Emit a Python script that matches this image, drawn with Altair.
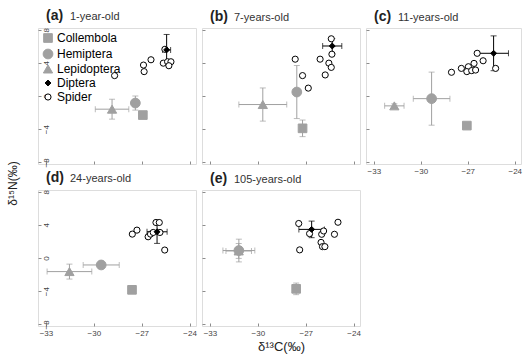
import altair as alt
import pandas as pd

# ---------------- data ----------------
GROUPS = ["Collembola", "Hemiptera", "Lepidoptera", "Diptera", "Spider"]
PANEL_TAGS = ["(a)", "(b)", "(c)", "(d)", "(e)"]
PANEL_AGES = ["1-year-old", "7-years-old", "11-years-old", "24-years-old", "105-years-old"]

# means per panel, order: Collembola, Hemiptera, Lepidoptera, Diptera
MEAN_X = [
    [-26.93, -27.40, -28.86, -25.44],
    [-27.20, -27.56, -29.69, -25.34],
    [-27.06, -29.31, -31.69, -25.35],
    [-27.61, -29.54, -31.53, -26.04],
    [-27.60, -31.19, -31.20, -26.63],
]
MEAN_Y = [
    [-2.30, -0.85, -1.59, 5.56],
    [-3.90, 0.48, -1.03, 6.03],
    [-3.57, -0.32, -1.19, 5.15],
    [-3.84, -0.84, -1.64, 3.16],
    [-3.72, 0.90, 0.85, 3.45],
]
ERR_X = [
    [0.0, 0.0, 1.05, 0.25],
    [0.0, 0.0, 1.50, 0.60],
    [0.0, 1.17, 0.62, 0.95],
    [0.0, 1.13, 1.40, 0.63],
    [0.0, 1.00, 0.80, 0.80],
]
ERR_Y = [
    [0.0, 0.85, 1.20, 1.86],
    [1.00, 3.20, 2.00, 0.90],
    [0.0, 3.20, 0.25, 2.10],
    [0.35, 0.20, 0.90, 1.40],
    [0.70, 1.37, 0.90, 1.00],
]
SPIDER_X = [
    [-28.70, -26.89, -26.85, -26.42, -25.65, -25.38, -25.17, -25.30, -25.55],
    [-27.66, -27.20, -26.84, -26.10, -25.55, -25.40, -25.78, -25.40, -25.36],
    [-26.40, -26.02, -26.60, -26.96, -27.41, -27.06, -26.75, -26.50, -28.04, -25.22],
    [-27.59, -27.30, -26.60, -26.45, -26.28, -26.11, -25.90, -25.56, -25.86],
    [-27.44, -27.38, -26.76, -26.00, -25.88, -26.04, -25.95, -25.80, -25.20, -24.98],
]
SPIDER_Y = [
    [2.46, 3.73, 2.94, 4.37, 3.96, 4.13, 4.13, 3.65, 5.63],
    [4.44, 2.46, 0.95, 4.44, 3.96, 3.45, 2.54, 6.90, 5.04],
    [5.15, 4.25, 3.93, 3.53, 3.33, 2.94, 3.06, 3.13, 2.86, 3.33],
    [2.88, 3.36, 2.56, 2.88, 3.08, 4.28, 4.28, 0.96, 3.08],
    [4.16, 0.98, 2.94, 2.86, 3.26, 1.88, 1.37, 1.37, 2.86, 4.31],
]
X_TICKS = [-33, -30, -27, -24]
Y_TICKS = [-8, -4, 0, 4, 8]

# ---------------- style ----------------
GRAY = "#a0a0a0"
FRAME = "#8c8c8c"
FONT = "Liberation Sans"
FILL = {"Collembola": GRAY, "Hemiptera": GRAY, "Lepidoptera": GRAY, "Diptera": "black", "Spider": "white"}
STROKE = {"Collembola": GRAY, "Hemiptera": GRAY, "Lepidoptera": GRAY, "Diptera": "black", "Spider": "black"}
SHAPE = {"Collembola": "square", "Hemiptera": "circle", "Lepidoptera": "triangle-up", "Diptera": "diamond", "Spider": "circle"}
SIZE = {"Collembola": 75, "Hemiptera": 95, "Lepidoptera": 85, "Diptera": 35, "Spider": 38}
DRAW_ORDER = ["Lepidoptera", "Collembola", "Hemiptera", "Diptera"]
BLANK = "\u2800"

XS = alt.Scale(domain=[-33.5, -23.6], nice=False, zero=False)
YS = alt.Scale(domain=[-8.2, 8.2], nice=False, zero=False)


def make_panel(i, show_xlab, show_ylab, xtitle, ytitle, legend, width):
    groups = GROUPS[:4]
    g = pd.DataFrame({"group": groups, "x": MEAN_X[i], "y": MEAN_Y[i],
                      "xe": ERR_X[i], "ye": ERR_Y[i]})
    g["ecol"] = [STROKE[k] for k in g["group"]]
    s = pd.DataFrame({"group": "Spider", "x": SPIDER_X[i], "y": SPIDER_Y[i]})
    g_ord = g.set_index("group").loc[DRAW_ORDER].reset_index()
    pts = pd.concat([s, g_ord[["group", "x", "y"]]], ignore_index=True)
    pts["fill"] = pts["group"].map(FILL)
    pts["stroke"] = pts["group"].map(STROKE)
    pts["shape"] = pts["group"].map(SHAPE)
    pts["size"] = pts["group"].map(SIZE)

    vb = g[g["ye"] > 0].copy()
    vb["lo"] = vb["y"] - vb["ye"]
    vb["hi"] = vb["y"] + vb["ye"]
    hb = g[g["xe"] > 0].copy()
    hb["lo"] = hb["x"] - hb["xe"]
    hb["hi"] = hb["x"] + hb["xe"]
    vcap = pd.concat([vb.assign(c=vb["lo"]), vb.assign(c=vb["hi"])])
    hcap = pd.concat([hb.assign(c=hb["lo"]), hb.assign(c=hb["hi"])])

    xkw = dict(values=X_TICKS, labels=show_xlab, domain=False, grid=False,
               tickSize=3, offset=-3, tickColor=FRAME, tickWidth=1,
               labelFontSize=8, labelColor="#444", labelPadding=3,
               labelFont=FONT, titleFont=FONT, titleFontSize=13,
               titleFontWeight="normal", titleColor="#222", titlePadding=3)
    ykw = dict(values=Y_TICKS, labels=show_ylab, domain=False, grid=False,
               tickSize=3, offset=-3, tickColor=FRAME, tickWidth=1,
               labelFontSize=8, labelColor="#444", labelPadding=-8,
               labelAngle=270, labelAlign="center", labelBaseline="middle",
               labelFont=FONT, titleFont=FONT, titleFontSize=12,
               titleFontWeight="normal", titleColor="#222")
    if ytitle:
        ykw.update(titleX=-29, titleY=155, titleAngle=270, titleAlign="center",
                   titleBaseline="middle")
    xaxis = alt.Axis(**xkw)
    yaxis = alt.Axis(**ykw)

    def X(f):
        return alt.X(f, scale=XS, axis=xaxis, title=xtitle if xtitle else None)

    def Y(f):
        return alt.Y(f, scale=YS, axis=yaxis, title=ytitle if ytitle else None)

    vrule = alt.Chart(vb).mark_rule(strokeWidth=1).encode(
        x=X("x:Q"), y=Y("lo:Q"), y2="hi:Q", color=alt.Color("ecol:N", scale=None))
    vcaps = alt.Chart(vcap).mark_tick(orient="horizontal", size=6, thickness=1).encode(
        x=X("x:Q"), y=Y("c:Q"), color=alt.Color("ecol:N", scale=None))
    hrule = alt.Chart(hb).mark_rule(strokeWidth=1).encode(
        y=Y("y:Q"), x=X("lo:Q"), x2="hi:Q", color=alt.Color("ecol:N", scale=None))
    hcaps = alt.Chart(hcap).mark_tick(orient="vertical", size=6, thickness=1).encode(
        y=Y("y:Q"), x=X("c:Q"), color=alt.Color("ecol:N", scale=None))

    if legend:
        leg = alt.Legend(orient="top-left", title=None, labelFontSize=12, labelFont=FONT,
                         labelColor="black", offset=4, padding=0, rowPadding=2,
                         symbolStrokeWidth=1, labelOffset=3)
        pe = dict(
            fill=alt.Fill("group:N", scale=alt.Scale(domain=GROUPS, range=[FILL[k] for k in GROUPS]),
                          legend=leg, sort=GROUPS),
            stroke=alt.Stroke("group:N", scale=alt.Scale(domain=GROUPS, range=[STROKE[k] for k in GROUPS]),
                              legend=leg, sort=GROUPS),
            shape=alt.Shape("group:N", scale=alt.Scale(domain=GROUPS, range=[SHAPE[k] for k in GROUPS]),
                            legend=leg, sort=GROUPS),
            size=alt.Size("group:N", scale=alt.Scale(type="ordinal", domain=GROUPS,
                                                      range=[SIZE[k] for k in GROUPS]),
                          legend=leg, sort=GROUPS),
        )
    else:
        pe = dict(fill=alt.Fill("fill:N", scale=None), stroke=alt.Stroke("stroke:N", scale=None),
                  shape=alt.Shape("shape:N", scale=None), size=alt.Size("size:Q", scale=None))
    points = alt.Chart(pts).mark_point(filled=False, strokeWidth=1, opacity=1).encode(
        x=X("x:Q"), y=Y("y:Q"), **pe)

    layers = []
    if len(vb):
        layers += [vrule, vcaps]
    if len(hb):
        layers += [hrule, hcaps]
    layers.append(points)
    title = alt.TitleParams(
        text=PANEL_TAGS[i],
        subtitle=BLANK * 3 + PANEL_AGES[i],
        anchor="start", frame="group", font=FONT, fontSize=14, fontWeight="bold", color="#222",
        subtitleFont=FONT, subtitleFontSize=11, subtitleColor="#333",
        subtitlePadding=-12, offset=4, dx=8)
    return alt.layer(*layers).properties(width=width, height=136, title=title)


pa = make_panel(0, False, True, None, "\u03b4\u00b9\u2075N(\u2030)", True, 158)
pb = make_panel(1, False, False, None, None, False, 158)
pc = make_panel(2, True, False, None, None, False, 155)
pd_ = make_panel(3, True, True, None, None, False, 158)
pe_ = make_panel(4, True, False, "\u03b4\u00b9\u00b3C(\u2030)", None, False, 158)

chart = alt.concat(pa, pb, pc, pd_, pe_, columns=3, spacing={"row": 26, "column": 6},
                   bounds="flush").resolve_scale(
    fill="independent", stroke="independent", shape="independent", size="independent",
    color="independent"
).resolve_legend(
    fill="independent", stroke="independent", shape="independent", size="independent"
).configure_view(stroke=FRAME, strokeWidth=1.2).configure(font=FONT).properties(
    padding={"left": 5, "top": 8, "right": 0, "bottom": 4}, background="white")

chart.save("out.html", embed_options={"renderer": "svg", "actions": False})
